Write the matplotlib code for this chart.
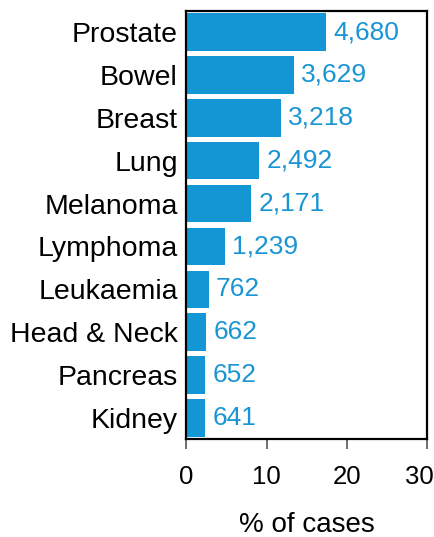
import matplotlib
matplotlib.use("Agg")
import matplotlib.pyplot as plt
import matplotlib.transforms as mtransforms

plt.rcParams['font.family'] = ['Liberation Sans', 'DejaVu Sans']

cancers = ['Prostate', 'Bowel', 'Breast', 'Lung', 'Melanoma', 'Lymphoma',
           'Leukaemia', 'Head & Neck', 'Pancreas', 'Kidney']
pct = [17.4, 13.4, 11.8, 9.1, 8.1, 4.8, 2.8, 2.5, 2.4, 2.4]
counts = ['4,680', '3,629', '3,218', '2,492', '2,171', '1,239',
          '762', '662', '652', '641']
xticks = [0, 10, 20, 30]

blue = '#1496d4'

fig = plt.figure(figsize=(4.35, 5.37), dpi=100)
ax = fig.add_axes([0.428, 0.1825, 0.554, 0.797])

ypos = list(range(len(cancers)))
ax.barh(ypos, pct, height=0.875, color=blue)

for y, v, c in zip(ypos, pct, counts):
    ax.annotate(c, (v, y), xytext=(5, 0), textcoords='offset points',
                va='center', ha='left', fontsize=19, color='#1a95d3')

ax.set_xlim(0, 30)
ax.set_ylim(9.49, -0.49)
ax.set_yticks(ypos)
ax.set_yticklabels(cancers, fontsize=20.5)
ax.tick_params(axis='y', length=0, pad=6)
ax.set_xticks(xticks)
ax.set_xticklabels([str(t) for t in xticks], fontsize=18.5)
ax.tick_params(axis='x', length=7, width=1.2, color='#555555', pad=12)
ax.set_xlabel('% of cases', fontsize=20, labelpad=16)

# keep the last tick label inside the figure, like the original
last = ax.get_xticklabels()[-1]
last.set_transform(last.get_transform() +
                   mtransforms.ScaledTranslation(-0.075, 0, fig.dpi_scale_trans))

for s in ax.spines.values():
    s.set_linewidth(1.6)
    s.set_color('black')

fig.savefig('out.png', dpi=100)
